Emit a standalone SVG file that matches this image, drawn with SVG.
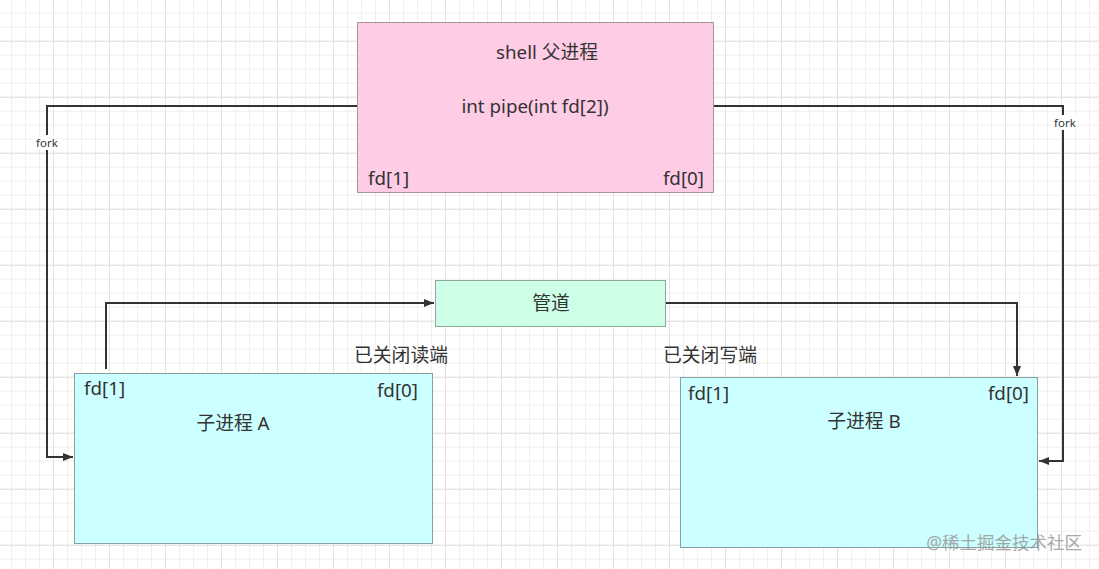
<svg xmlns="http://www.w3.org/2000/svg" width="1099" height="569" viewBox="0 0 1099 569">
<defs>
<pattern id="minor" patternUnits="userSpaceOnUse" x="11" y="12.7" width="14" height="14">
<path d="M0 0.5H14M0.5 0V14" fill="none" stroke="#efefef" stroke-width="1"/>
</pattern>
<pattern id="major" patternUnits="userSpaceOnUse" x="53" y="40.7" width="56" height="56">
<path d="M0 0.5H56M0.5 0V56" fill="none" stroke="#e2e2e2" stroke-width="1"/>
</pattern>
<marker id="arr" viewBox="0 0 10 10" refX="10" refY="5" markerWidth="10" markerHeight="10" markerUnits="userSpaceOnUse" orient="auto">
<path d="M0 1L10 5L0 9Z" fill="#333"/>
</marker>
<style>
.t{font-family:"Noto Sans","Noto Sans CJK SC",sans-serif;font-size:18.8px;fill:#333}
.f{font-family:"Noto Sans",sans-serif;font-size:11.5px;fill:#333}
.c{fill:none;stroke:#333;stroke-width:2}
.box{stroke-width:1}
</style>
</defs>
<rect width="1099" height="569" fill="#fff"/>
<rect width="1099" height="569" fill="url(#minor)"/>
<rect width="1099" height="569" fill="url(#major)"/>

<g id="connectors">
<path class="c" d="M357 106H47V457H73" marker-end="url(#arr)"/>
<path class="c" d="M714 106H1063V461H1039" marker-end="url(#arr)"/>
<path class="c" d="M106 369V303H434" marker-end="url(#arr)"/>
<path class="c" d="M666 303H1017V376" marker-end="url(#arr)"/>
<g id="fork-left">
<rect x="33" y="135" width="28" height="15" fill="#fff"/>
<text class="f" x="47" y="147" text-anchor="middle">fork</text>
</g>
<g id="fork-right">
<rect x="1051" y="115" width="28" height="15" fill="#fff"/>
<text class="f" x="1065" y="127" text-anchor="middle">fork</text>
</g>
</g>

<g id="parent">
<rect class="box" x="357.5" y="22.5" width="356" height="170" fill="#ffcce6" stroke="#a8949e"/>
<text class="t" x="547" y="59" text-anchor="middle">shell 父进程</text>
<text class="t" x="535" y="113" text-anchor="middle">int pipe(int fd[2])</text>
<text class="t" x="368" y="185">fd[1]</text>
<text class="t" x="704" y="185" text-anchor="end">fd[0]</text>
</g>

<g id="pipe">
<rect class="box" x="435.5" y="280.5" width="230" height="46" fill="#ccffe6" stroke="#8fa89c"/>
<text class="t" x="551" y="310" text-anchor="middle">管道</text>
</g>

<g id="childA">
<rect class="box" x="74.5" y="373.5" width="358" height="170" fill="#ccffff" stroke="#85a0a0"/>
<text class="t" x="84" y="395">fd[1]</text>
<text class="t" x="418" y="397" text-anchor="end">fd[0]</text>
<text class="t" x="233" y="430" text-anchor="middle">子进程 A</text>
</g>
<text id="label-closed-read" class="t" x="401" y="362" text-anchor="middle">已关闭读端</text>

<g id="childB">
<rect class="box" x="680.5" y="377.5" width="357" height="170" fill="#ccffff" stroke="#85a0a0"/>
<text class="t" x="688" y="400">fd[1]</text>
<text class="t" x="1029" y="400" text-anchor="end">fd[0]</text>
<text class="t" x="864" y="428" text-anchor="middle">子进程 B</text>
</g>
<text id="label-closed-write" class="t" x="710" y="362" text-anchor="middle">已关闭写端</text>

<text id="watermark" x="1082" y="549" text-anchor="end" style="font-family:'Noto Sans','Noto Sans CJK SC',sans-serif;font-size:17.5px;fill:#9a9a9a;opacity:0.85">@稀土掘金技术社区</text>
</svg>
